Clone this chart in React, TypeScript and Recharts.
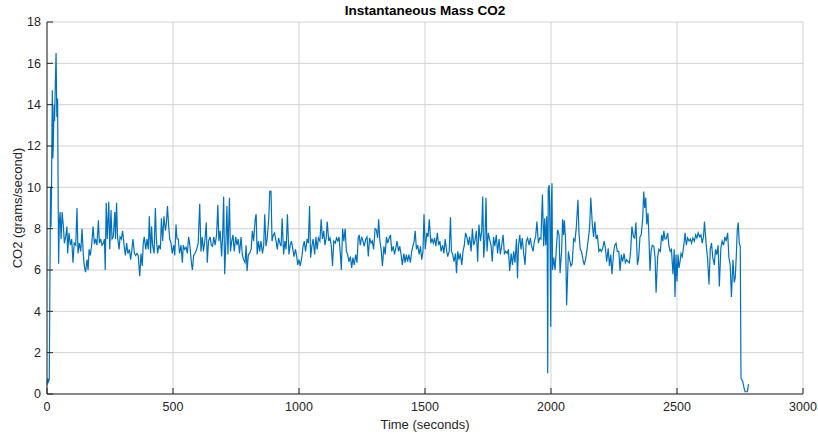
import { LineChart, Line, XAxis, YAxis, CartesianGrid } from "recharts"

// time (s) and CO2 mass rate (g/s)
const times = [
  0, 3, 6, 9, 14, 16, 18, 21, 23, 25, 28, 30, 33, 36, 39, 42, 46, 49, 52,
  56, 60, 65, 69, 74, 79, 82, 87, 93, 98, 103, 108, 114, 119, 123, 128, 134, 139, 144, 148,
  153, 159, 163, 167, 172, 177, 183, 188, 193, 198, 204, 208, 213, 218, 224, 228, 231, 235,
  239, 245, 249, 254, 258, 263, 269, 272, 276, 280, 286, 290, 295, 300, 306, 311, 316, 321,
  327, 332, 337, 341, 347, 352, 357, 362, 368, 373, 378, 382, 386, 392, 397, 402, 406, 411,
  415, 419, 425, 430, 434, 439, 444, 450, 454, 459, 464, 470, 474, 478, 483, 487, 492, 497,
  503, 507, 512, 516, 521, 526, 532, 537, 541, 546, 552, 557, 562, 567, 573, 577, 582, 587,
  594, 600, 606, 611, 616, 621, 627, 632, 636, 641, 647, 652, 657, 662, 667, 673, 678, 682,
  687, 693, 697, 701, 705, 710, 714, 718, 724, 728, 733, 738, 743, 749, 754, 759, 764, 770,
  775, 780, 786, 790, 794, 799, 804, 810, 815, 820, 826, 830, 834, 839, 844, 849, 855, 860,
  864, 869, 874, 880, 884, 889, 893, 898, 903, 909, 914, 919, 924, 929, 933, 939, 944, 949,
  954, 960, 965, 970, 975, 980, 986, 991, 995, 1000, 1005, 1011, 1016, 1021, 1026, 1032,
  1037, 1042, 1046, 1051, 1056, 1062, 1067, 1072, 1077, 1083, 1088, 1093, 1098, 1103, 1108,
  1112, 1118, 1123, 1128, 1133, 1138, 1144, 1149, 1154, 1159, 1164, 1168, 1173, 1178, 1183,
  1188, 1193, 1198, 1204, 1209, 1214, 1219, 1225, 1230, 1235, 1239, 1243, 1249, 1254, 1259,
  1265, 1270, 1275, 1280, 1286, 1291, 1296, 1302, 1307, 1312, 1316, 1321, 1326, 1331, 1337,
  1342, 1347, 1352, 1358, 1363, 1368, 1374, 1379, 1384, 1389, 1395, 1400, 1405, 1410, 1416,
  1421, 1426, 1431, 1436, 1442, 1447, 1452, 1457, 1461, 1466, 1471, 1477, 1482, 1487, 1492,
  1496, 1501, 1507, 1512, 1517, 1523, 1528, 1533, 1538, 1543, 1549, 1554, 1559, 1564, 1570,
  1575, 1580, 1585, 1590, 1596, 1601, 1605, 1610, 1615, 1621, 1625, 1630, 1635, 1640, 1646,
  1651, 1656, 1661, 1667, 1672, 1677, 1683, 1688, 1693, 1698, 1704, 1709, 1714, 1720, 1725,
  1729, 1733, 1738, 1742, 1746, 1751, 1756, 1762, 1767, 1772, 1777, 1783, 1788, 1794, 1799,
  1804, 1810, 1815, 1820, 1826, 1831, 1836, 1842, 1847, 1852, 1857, 1863, 1867, 1871, 1876,
  1881, 1886, 1892, 1897, 1902, 1907, 1913, 1918, 1923, 1929, 1934, 1939, 1944, 1950, 1955,
  1960, 1966, 1971, 1975, 1979, 1983, 1985, 1987, 1989, 1993, 1996, 1999, 2001, 2004, 2006,
  2011, 2016, 2021, 2026, 2032, 2036, 2042, 2046, 2050, 2053, 2058, 2062, 2069, 2074, 2079,
  2084, 2090, 2095, 2100, 2107, 2111, 2116, 2121, 2127, 2132, 2137, 2142, 2148, 2153, 2158,
  2164, 2169, 2174, 2179, 2184, 2190, 2195, 2200, 2205, 2211, 2216, 2221, 2227, 2232, 2237,
  2242, 2248, 2253, 2258, 2263, 2269, 2274, 2279, 2284, 2290, 2295, 2300, 2306, 2311, 2316,
  2321, 2327, 2332, 2337, 2343, 2348, 2353, 2358, 2364, 2368, 2372, 2376, 2380, 2385, 2389,
  2393, 2397, 2402, 2408, 2413, 2417, 2423, 2428, 2434, 2439, 2444, 2448, 2452, 2457, 2463,
  2468, 2473, 2478, 2484, 2489, 2492, 2496, 2500, 2504, 2508, 2512, 2516, 2521, 2527, 2532,
  2537, 2542, 2548, 2553, 2558, 2563, 2569, 2574, 2579, 2584, 2590, 2595, 2600, 2605, 2609,
  2613, 2617, 2621, 2627, 2632, 2637, 2642, 2648, 2653, 2658, 2663, 2668, 2674, 2679, 2685,
  2690, 2695, 2701, 2706, 2711, 2716, 2722, 2727, 2731, 2735, 2739, 2743, 2747, 2751, 2754,
  2761, 2766, 2770, 2779, 2784,
]

const co2 = [
  0.45, 0.75, 0.6, 0.7, 10.0, 8.1, 10.1, 14.7, 11.4, 12.0, 14.0, 13.2, 15.0, 16.5, 13.4, 14.3, 6.3, 8.3, 8.8,
  7.5, 8.8, 8.1, 7.3, 7.6, 8.1, 6.8, 7.8, 7.2, 7.5, 6.35, 7.3, 7.2, 9.0, 6.8, 7.3, 6.9, 8.0, 6.75, 6.2,
  5.9, 6.5, 6.0, 7.0, 6.7, 7.2, 8.1, 7.25, 7.5, 7.2, 8.4, 7.3, 7.5, 7.2, 7.3, 7.5, 6.0, 9.25,
  7.5, 9.3, 7.0, 8.9, 7.5, 7.6, 8.8, 7.5, 9.25, 7.6, 7.0, 7.6, 7.5, 7.9, 7.2, 6.7, 7.3, 6.8,
  7.0, 6.5, 7.0, 7.5, 6.8, 6.7, 6.8, 6.7, 5.7, 6.8, 6.2, 7.3, 7.6, 7.0, 7.5, 7.0, 8.6, 6.8,
  8.1, 7.2, 6.8, 9.0, 7.5, 6.8, 7.2, 7.0, 8.5, 7.4, 8.6, 7.9, 8.3, 9.1, 8.1, 7.5, 7.3, 6.8,
  7.2, 6.7, 8.2, 7.5, 7.5, 6.8, 7.2, 6.35, 7.2, 7.0, 7.1, 6.8, 7.6, 7.2, 6.35, 6.0, 6.7, 6.8,
  7.0, 7.3, 9.2, 6.9, 7.6, 6.9, 7.5, 8.3, 6.35, 7.4, 7.6, 7.2, 7.15, 7.6, 7.2, 7.7, 9.15, 7.4,
  7.9, 6.65, 7.7, 9.55, 5.8, 7.4, 9.1, 6.75, 9.5, 6.9, 7.4, 7.7, 6.9, 7.6, 7.2, 7.5, 6.8, 7.6,
  6.75, 6.5, 6.35, 7.2, 5.95, 6.75, 6.8, 7.0, 7.9, 7.4, 8.45, 8.7, 6.75, 7.4, 6.9, 7.4, 6.8, 7.2,
  8.7, 7.15, 7.55, 8.5, 9.8, 9.8, 7.4, 7.7, 7.8, 7.4, 7.0, 7.55, 7.3, 7.15, 8.5, 6.75, 7.4, 7.0,
  8.7, 6.75, 7.2, 7.4, 7.05, 6.65, 7.0, 6.65, 6.25, 6.5, 6.2, 6.6, 7.15, 7.4, 6.9, 7.5,
  7.3, 9.1, 6.6, 7.15, 7.5, 6.75, 7.6, 7.0, 7.55, 7.4, 8.45, 7.5, 7.9, 7.2, 7.55,
  8.35, 7.4, 7.55, 7.2, 6.2, 7.4, 7.3, 7.55, 7.4, 7.6, 6.8, 6.0, 8.0, 7.4, 8.0,
  6.9, 6.75, 6.4, 6.65, 6.1, 6.6, 6.25, 6.75, 6.35, 7.55, 7.7, 7.2, 7.6, 7.4, 7.15,
  7.5, 7.6, 6.65, 7.55, 7.3, 7.4, 7.0, 8.0, 7.95, 7.55, 8.45, 7.4, 7.0, 6.2, 7.15,
  6.75, 7.6, 7.3, 7.55, 7.7, 6.9, 7.15, 6.75, 7.05, 7.4, 6.9, 7.15, 6.75, 6.25, 6.8,
  6.35, 6.75, 6.4, 6.75, 6.35, 6.9, 7.15, 7.4, 7.9, 7.0, 7.2, 6.75, 7.15, 6.5, 6.9,
  8.7, 7.0, 7.8, 7.6, 8.45, 7.3, 7.5, 7.3, 7.55, 7.15, 7.8, 7.2, 7.4, 6.9, 7.2,
  6.8, 7.5, 7.0, 6.65, 6.9, 8.55, 6.9, 6.75, 6.4, 6.8, 5.85, 6.9, 6.5, 6.8, 6.25,
  6.9, 7.2, 7.8, 7.55, 7.2, 7.6, 6.9, 8.0, 7.2, 7.4, 7.9, 6.4, 8.2, 7.4, 7.9,
  9.55, 6.6, 7.5, 9.5, 6.9, 7.8, 7.5, 7.2, 6.4, 7.6, 7.15, 7.7, 6.8, 7.5, 6.75,
  7.15, 7.7, 6.8, 6.9, 6.8, 7.0, 5.95, 6.8, 6.25, 6.9, 6.35, 7.5, 5.6, 7.15, 7.7,
  7.0, 7.55, 6.75, 6.25, 7.4, 7.55, 7.2, 7.55, 7.15, 6.9, 7.4, 7.6, 8.35, 7.3, 7.55,
  7.5, 9.65, 7.15, 8.5, 7.2, 8.6, 7.2, 1.0, 9.9, 10.1, 7.8, 3.25, 9.2, 10.2, 6.0,
  6.6, 6.0, 7.0, 7.95, 7.7, 5.85, 6.9, 8.45, 7.7, 8.4, 7.4, 4.3, 6.9, 6.5, 6.2,
  6.3, 7.5, 7.4, 8.0, 9.4, 7.8, 7.0, 6.9, 6.5, 6.25, 6.5, 6.9, 7.5, 8.0, 9.5,
  8.2, 7.6, 8.35, 7.5, 7.7, 6.9, 7.0, 6.9, 7.05, 7.4, 7.05, 6.4, 7.05, 6.2, 6.75,
  5.8, 6.8, 7.2, 7.3, 6.9, 6.9, 5.95, 6.75, 6.4, 6.8, 6.35, 6.5, 6.4, 6.35, 6.9,
  8.1, 7.6, 7.55, 8.3, 6.25, 6.6, 7.6, 7.7, 8.5, 9.8, 9.0, 9.5, 8.2, 8.75, 7.4,
  5.95, 6.9, 7.2, 7.15, 6.6, 4.9, 6.6, 7.0, 6.9, 7.7, 7.4, 7.9, 7.5, 7.5, 7.8,
  7.15, 6.9, 7.0, 5.8, 7.0, 4.7, 6.75, 5.45, 6.75, 6.1, 6.4, 6.8, 6.65, 7.2, 7.8,
  7.2, 7.55, 7.4, 7.5, 7.3, 7.55, 7.4, 7.7, 7.55, 7.8, 7.6, 7.7, 7.3, 7.6, 8.35,
  7.7, 7.05, 6.6, 5.3, 7.0, 7.3, 6.6, 6.25, 7.0, 6.75, 7.2, 5.2, 7.05, 7.4, 7.2,
  7.6, 7.4, 7.8, 6.6, 6.25, 4.7, 6.5, 5.4, 5.6, 6.6, 7.9, 8.3, 7.3, 7.15, 0.76,
  0.6, 0.3, 0.11, 0.11, 0.48,
]

const xTicks = [0, 500, 1000, 1500, 2000, 2500, 3000]
const yTicks = [0, 2, 4, 6, 8, 10, 12, 14, 16, 18]

const data = times.map((t, i) => ({ t, co2: co2[i] }))

const ink = "#262626"
const font = "'Liberation Sans', Arial, sans-serif"

export default function App() {
  return (
    <div
      style={{
        position: "absolute",
        left: 0,
        top: 0,
        width: 818,
        height: 434,
        background: "#fff",
        fontFamily: font,
      }}
    >
      <div
        style={{
          position: "absolute",
          left: 47,
          width: 756,
          top: 4,
          textAlign: "center",
          fontSize: 13.5,
          lineHeight: "14px",
          fontWeight: "bold",
          color: "#000",
        }}
      >
        Instantaneous Mass CO2
      </div>
      <LineChart
        width={818}
        height={434}
        data={data}
        margin={{ top: 22, right: 15, bottom: 0, left: 0 }}
      >
        <CartesianGrid stroke="#d2d2d2" strokeWidth={1} />
        <XAxis
          dataKey="t"
          type="number"
          domain={[0, 3000]}
          ticks={xTicks}
          height={40}
          stroke={ink}
          tickSize={-6}
          tickMargin={14}
          tick={{ fill: ink, fontSize: 12.5, fontFamily: font }}
          label={{
            value: "Time (seconds)",
            position: "insideBottom",
            offset: 5,
            fill: ink,
            fontSize: 13,
            fontFamily: font,
          }}
        />
        <XAxis
          xAxisId="top"
          orientation="top"
          type="number"
          domain={[0, 3000]}
          ticks={xTicks}
          height={0}
          stroke={ink}
          tickSize={-6}
          tick={false}
        />
        <YAxis
          type="number"
          domain={[0, 18]}
          ticks={yTicks}
          width={47}
          stroke={ink}
          tickSize={-6}
          tickMargin={12}
          tick={{ fill: ink, fontSize: 12.5, fontFamily: font }}
          label={{
            value: "CO2 (grams/second)",
            angle: -90,
            position: "insideLeft",
            offset: 17,
            fill: ink,
            fontSize: 13,
            fontFamily: font,
            style: { textAnchor: "middle" },
          }}
        />
        <YAxis
          yAxisId="right"
          orientation="right"
          type="number"
          domain={[0, 18]}
          ticks={yTicks}
          width={0}
          stroke={ink}
          tickSize={-6}
          tick={false}
        />
        <Line
          dataKey="co2"
          type="linear"
          stroke="#0072BD"
          strokeWidth={1.2}
          dot={false}
          isAnimationActive={false}
        />
      </LineChart>
    </div>
  )
}
